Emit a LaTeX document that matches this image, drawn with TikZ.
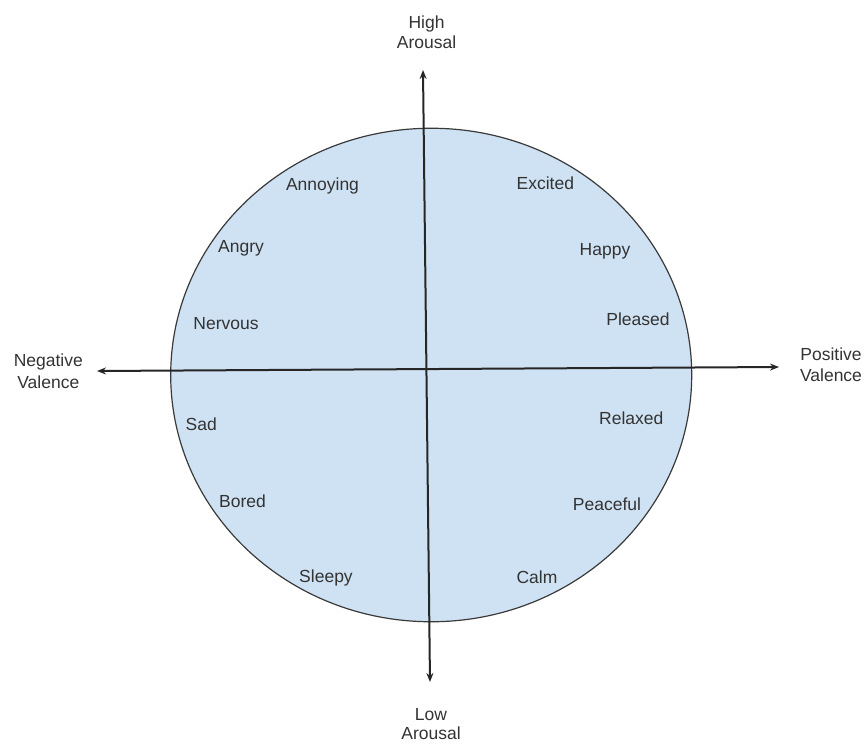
\documentclass[tikz,border=0pt]{standalone}
\usepackage{fontspec}
\setmainfont{Liberation Sans}
\usetikzlibrary{arrows.meta,shapes.geometric}
\definecolor{disc}{HTML}{CFE2F3}
\definecolor{rim}{HTML}{3A3A3A}
\definecolor{ink}{HTML}{333333}
\tikzset{
  axis/.style={line width=2pt, draw=black!85, {Stealth[length=9pt,width=7pt]}-{Stealth[length=9pt,width=7pt]}},
  lbl/.style={anchor=base, inner sep=0pt, text=ink, font=\fontsize{17.5}{21}\selectfont}
}
\begin{document}
\begin{tikzpicture}[x=1pt,y=-1pt]
\useasboundingbox (0,0) rectangle (868,745);
\node[draw=rim, line width=1.2pt, fill=disc, ellipse, minimum width=521pt, minimum height=493.5pt, inner sep=0pt] (disc) at (431.2,375) {};
% axes
\coordinate (top) at (423,70);
\coordinate (bot) at (430,682);
\coordinate (lft) at (97,371);
\coordinate (rgt) at (779,367);
\draw[axis] (top) -- (bot);
\draw[axis] (lft) -- (rgt);
% axis labels
\node[lbl] (high1) at (426.5,28) {High};
\node[lbl] (high2) at (426.5,48) {Arousal};
\node[lbl] (low1) at (431,720) {Low};
\node[lbl] (low2) at (431,739.5) {Arousal};
\node[lbl] (neg1) at (48.3,366.7) {Negative};
\node[lbl] (neg2) at (48.3,388.5) {Valence};
\node[lbl] (pos1) at (831,360) {Positive};
\node[lbl] (pos2) at (831,381.7) {Valence};
% emotion labels
\node[lbl] (annoying) at (322.5,190) {Annoying};
\node[lbl] (angry) at (241,252.7) {Angry};
\node[lbl] (nervous) at (226,329) {Nervous};
\node[lbl] (excited) at (545.3,189) {Excited};
\node[lbl] (happy) at (605,255) {Happy};
\node[lbl] (pleased) at (638,325) {Pleased};
\node[lbl] (sad) at (201.3,430.7) {Sad};
\node[lbl] (bored) at (242.5,507.7) {Bored};
\node[lbl] (sleepy) at (326,582.7) {Sleepy};
\node[lbl] (relaxed) at (631.3,424.3) {Relaxed};
\node[lbl] (peaceful) at (607,510) {Peaceful};
\node[lbl] (calm) at (537,583.3) {Calm};
\end{tikzpicture}
\end{document}
